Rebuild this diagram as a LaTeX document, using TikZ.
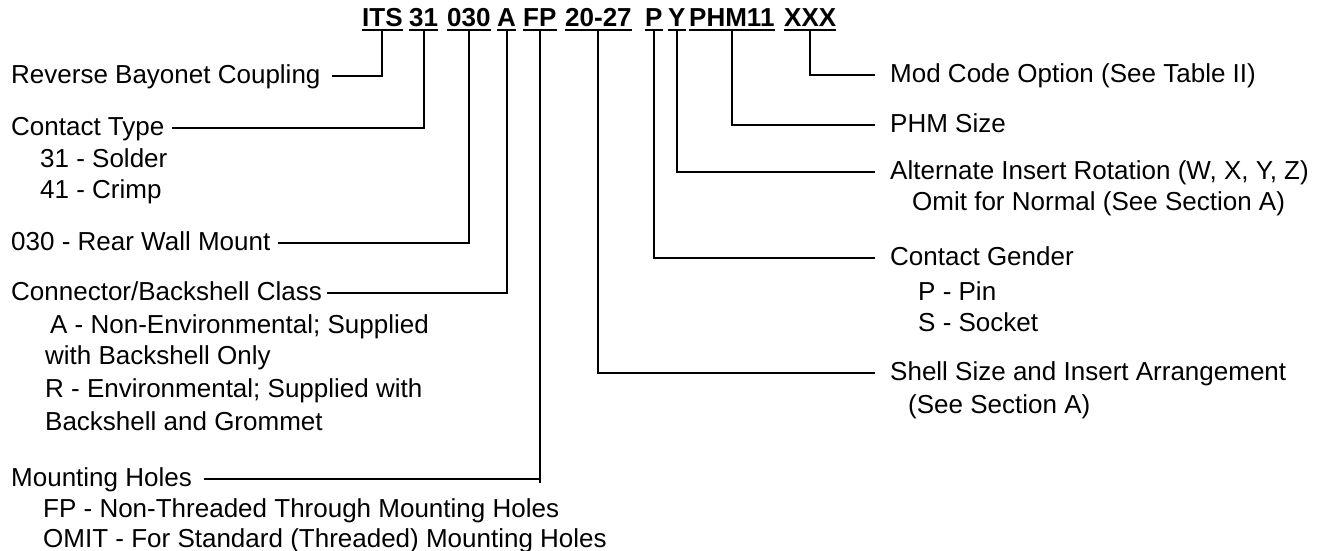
\documentclass[tikz,border=0pt]{standalone}
\usepackage{fontspec}
\setmainfont{Liberation Sans}
\begin{document}
\begin{tikzpicture}[x=1pt,y=-1pt,
  lbl/.style={inner sep=0pt, anchor=base west, font=\fontsize{26}{30}\selectfont, text height=19pt, text depth=5pt},
  code/.style={inner sep=0pt, anchor=base west, font=\fontsize{26}{30}\selectfont\bfseries},
  conn/.style={line width=2pt},
  ul/.style={line width=2pt}]
\useasboundingbox (0,0) rectangle (1329,550);

% code line
\node[code] (w1)  at (362,26) {ITS};
\node[code] (w2)  at (409,26) {31};
\node[code] (w3)  at (447,26) {030};
\node[code] (w4)  at (497,26) {A};
\node[code] (w5)  at (523,26) {FP};
\node[code] (w6)  at (565,26) {20-27};
\node[code] (w7)  at (645,26) {P};
\node[code] (w8)  at (668,26) {Y};
\node[code] (w9)  at (689,26) {PHM11};
\node[code] (w10) at (784,26) {XXX};
\foreach \w in {w1,w2,w3,w4,w5,w6,w7,w8,w9,w10}
  \draw[ul] ([yshift=-4pt]\w.base west) -- ([yshift=-4pt]\w.base east);

% left labels
\node[lbl] (rbc) at (11,83) {Reverse Bayonet Coupling};
\node[lbl] (ct)  at (11,135) {Contact Type};
\node[lbl] (ct1) at (40,167) {31 - Solder};
\node[lbl] (ct2) at (40,198) {41 - Crimp};
\node[lbl] (rw)  at (11,250) {030 - Rear Wall Mount};
\node[lbl] (cb)  at (11,300) {Connector/Backshell Class};
\node[lbl] (cb1) at (50,333) {A - Non-Environmental; Supplied};
\node[lbl] (cb2) at (45,364) {with Backshell Only};
\node[lbl] (cb3) at (45,397) {R - Environmental; Supplied with};
\node[lbl] (cb4) at (45,430) {Backshell and Grommet};
\node[lbl] (mh)  at (11,486) {Mounting Holes};
\node[lbl] (mh1) at (43,517) {FP - Non-Threaded Through Mounting Holes};
\node[lbl] (mh2) at (43,547) {OMIT - For Standard (Threaded) Mounting Holes};

% right labels
\node[lbl] (mc)   at (890,82)  {Mod Code Option (See Table II)};
\node[lbl] (phm)  at (890,132) {PHM Size};
\node[lbl] (air)  at (890,179) {Alternate Insert Rotation (W, X, Y, Z)};
\node[lbl] (air1) at (912,210) {Omit for Normal (See Section A)};
\node[lbl] (cg)   at (890,265) {Contact Gender};
\node[lbl] (cg1)  at (918,300) {P - Pin};
\node[lbl] (cg2)  at (918,331) {S - Socket};
\node[lbl] (ss)   at (890,380) {Shell Size and Insert Arrangement};
\node[lbl] (ss1)  at (908,413) {(See Section A)};

% left connectors
\draw[conn] ([yshift=-4pt]w1.base) |- ([xshift=11pt]rbc.east);
\draw[conn] ([yshift=-4pt]w2.base) |- ([xshift=7pt]ct.east);
\draw[conn] ([yshift=-4pt]w3.base) |- ([xshift=7pt]rw.east);
\draw[conn] ([yshift=-4pt]w4.base) |- ([xshift=5pt]cb.east);
\draw[conn] ([yshift=-4pt]w5.base) |- ([xshift=12pt]mh.east);
\draw[conn] (w5.base |- mh.east) -- ++(0,4);

% right connectors
\draw[conn] ([yshift=-4pt]w10.base) |- ([xshift=-15pt]mc.west);
\draw[conn] ([yshift=-4pt]w9.base)  |- ([xshift=-15pt]phm.west);
\draw[conn] ([yshift=-4pt]w8.base)  |- ([xshift=-15pt]air.west);
\draw[conn] ([yshift=-4pt]w7.base)  |- ([xshift=-15pt]cg.west);
\draw[conn] ([yshift=-4pt]w6.base)  |- ([xshift=-15pt]ss.west);
\end{tikzpicture}
\end{document}
